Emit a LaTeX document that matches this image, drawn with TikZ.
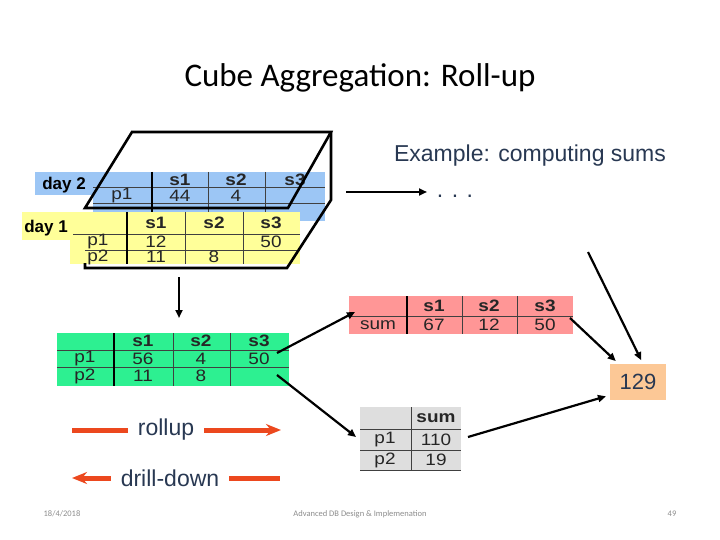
\documentclass[tikz,border=0pt]{standalone}
\usepackage{fontspec}
\setmainfont{Liberation Sans}
\newfontfamily\slidefont{Carlito}
\newfontfamily\tabfamily[FakeStretch=1.15]{Liberation Sans}
\usetikzlibrary{arrows.meta}

\definecolor{daytwo}{RGB}{156,198,245}
\definecolor{dayone}{RGB}{255,255,153}
\definecolor{rolled}{RGB}{45,240,145}
\definecolor{sumrow}{RGB}{255,150,150}
\definecolor{sumcol}{RGB}{222,222,222}
\definecolor{total}{RGB}{252,200,150}
\definecolor{rolcol}{RGB}{236,72,30}
\definecolor{slate}{RGB}{40,56,82}

\newcommand{\cellfont}{\tabfamily\fontsize{16.5}{18}\selectfont}
\newcommand{\bigfont}{\fontsize{23}{26}\selectfont}

\begin{document}
\begin{tikzpicture}[x=1pt,y=-1pt,
  cell/.style={font=\cellfont, text=black!85, inner sep=0pt},
  head/.style={font=\cellfont\bfseries, text=black!85, inner sep=0pt},
  daylabel/.style={font=\fontsize{17}{19}\selectfont\bfseries, inner sep=0pt},
  gridline/.style={draw=black!75, line width=0.8pt},
  sepline/.style={draw=black, line width=1.6pt},
  cubeline/.style={line width=2.6pt, line join=miter},
  link/.style={line width=2.2pt, -{Triangle[length=8pt,width=7pt]}},
  redbar/.style={draw=rolcol, line width=5pt},
  redarrow/.style={redbar, -{Stealth[length=15pt,width=12pt]}}]

\useasboundingbox (0,0) rectangle (720,540);

\node[font=\slidefont\fontsize{33}{36}\selectfont] (title) at (360,78) {Cube Aggregation: Roll-up};
\node[font=\bigfont, text=slate] (example) at (530,156) {Example: computing sums};
\node[font=\bigfont, text=slate] (dots) at (455,196) {. . .};

% day 2 table, behind
\fill[daytwo] (35,172) rectangle (93,195);
\fill[daytwo] (93,172) rectangle (325,221);
\draw[gridline] (93,187) -- (325,187);
\draw[gridline] (93,203) -- (325,203);
\draw[sepline] (152,172) -- (152,221);
\foreach \x in {208,265} \draw[gridline] (\x,172) -- (\x,221);
\node[daylabel] (daytwo) at (64,185) {day 2};
\node[head] (twos1) at (180,180) {s1};
\node[head] (twos2) at (236,180) {s2};
\node[head] (twos3) at (295,180) {s3};
\node[cell] (twop1) at (122,196) {p1};
\node[cell] (twoa) at (180,196) {44};
\node[cell] (twob) at (236,196) {4};

% day 1 table, in front
\fill[dayone] (22,212) rectangle (70,240);
\fill[dayone] (70,212) rectangle (300,264);
\draw[gridline] (73,234) -- (300,234);
\draw[gridline] (85,250) -- (300,250);
\draw[sepline] (127,212) -- (127,264);
\foreach \x in {185,243} \draw[gridline] (\x,212) -- (\x,264);
\node[daylabel] (dayone) at (46,228) {day 1};
\node[head] (ones1) at (156,223) {s1};
\node[head] (ones2) at (214,223) {s2};
\node[head] (ones3) at (271,223) {s3};
\node[cell] (onep1) at (98,242) {p1};
\node[cell] (onea) at (156,242) {12};
\node[cell] (onec) at (271,242) {50};
\node[cell] (onep2) at (98,257) {p2};
\node[cell] (oned) at (156,257) {11};
\node[cell] (onee) at (214,257) {8};

% the cube
\draw[cubeline] (85,208) -- (132,132) -- (331,132) -- (288,208) -- cycle;
\draw[cubeline] (331,132) -- (331,200) -- (287,268) -- (85,268) -- (85,263);

% rolled up over days
\fill[rolled] (57,333) rectangle (289,386);
\draw[gridline] (57,350) -- (289,350);
\draw[gridline] (57,367) -- (289,367);
\draw[sepline] (114,333) -- (114,386);
\foreach \x in {173,230} \draw[gridline] (\x,333) -- (\x,386);
\node[head] (gs1) at (143,341) {s1};
\node[head] (gs2) at (201,341) {s2};
\node[head] (gs3) at (259,341) {s3};
\node[cell] (gp1) at (85,359) {p1};
\node[cell] (ga) at (143,359) {56};
\node[cell] (gb) at (201,359) {4};
\node[cell] (gc) at (259,359) {50};
\node[cell] (gp2) at (85,376) {p2};
\node[cell] (gd) at (143,376) {11};
\node[cell] (ge) at (201,376) {8};

% sums per supplier
\fill[sumrow] (349,296) rectangle (573,334);
\draw[gridline] (349,316) -- (573,316);
\draw[sepline] (407,296) -- (407,334);
\foreach \x in {462,517} \draw[gridline] (\x,296) -- (\x,334);
\node[head] (rs1) at (434,306) {s1};
\node[head] (rs2) at (489,306) {s2};
\node[head] (rs3) at (545,306) {s3};
\node[cell] (rsum) at (378,325) {sum};
\node[cell] (ra) at (434,325) {67};
\node[cell] (rb) at (489,325) {12};
\node[cell] (rc) at (545,325) {50};

% sums per part
\fill[sumcol] (360,407) rectangle (461,471);
\foreach \y in {429,450,470} \draw[gridline] (360,\y) -- (461,\y);
\draw[gridline] (411,407) -- (411,471);
\node[head] (csum) at (436,418) {sum};
\node[cell] (cp1) at (385,440) {p1};
\node[cell] (ca) at (436,440) {110};
\node[cell] (cp2) at (385,460) {p2};
\node[cell] (cb) at (436,460) {19};

\node[fill=total, minimum width=56pt, minimum height=36pt, font=\fontsize{22}{24}\selectfont, text=slate] (total) at (638,382) {129};

% connectors
\coordinate (cubeout) at (346,192);
\coordinate (dotsin) at (427,192);
\coordinate (cubedown) at (179,277);
\coordinate (greenin) at (179,318);
\coordinate (greenout) at (277,353);
\coordinate (rowin) at (355,312);
\coordinate (greenlow) at (277,375);
\coordinate (colin) at (356,437);
\coordinate (rowout) at (570,318);
\coordinate (fromdots) at (588,252);
\coordinate (colout) at (468,437);

\draw[link] (cubeout) -- (dotsin);
\draw[link] (cubedown) -- (greenin);
\draw[link] (greenout) -- (rowin);
\draw[link] (greenlow) -- (colin);
\draw[link, shorten >=4pt] (rowout) -- (total);
\draw[link, shorten >=4pt] (fromdots) -- ([xshift=5pt]total.north);
\draw[link, shorten >=4pt] (colout) -- (total.205);

% rollup / drill-down
\node[font=\bigfont, text=slate, inner xsep=10pt] (rollup) at (166,430) {rollup};
\node[font=\bigfont, text=slate, inner xsep=10pt] (drill) at (170,478) {drill-down};
\coordinate (rollleft) at (72,430);
\coordinate (rollright) at (281,430);
\coordinate (drillleft) at (72,478);
\coordinate (drillright) at (280,478);
\draw[redbar] (rollleft) -- (rollup);
\draw[redarrow] (rollup) -- (rollright);
\draw[redarrow] (drill) -- (drillleft);
\draw[redbar] (drill) -- (drillright);

% footer
\node[font=\slidefont\fontsize{8.5}{10}\selectfont, text=black!45] (date) at (62,514) {18/4/2018};
\node[font=\slidefont\fontsize{8.5}{10}\selectfont, text=black!45] (course) at (360,514) {Advanced DB Design \& Implemenation};
\node[font=\slidefont\fontsize{8.5}{10}\selectfont, text=black!45] (page) at (672,514) {49};

\end{tikzpicture}
\end{document}
